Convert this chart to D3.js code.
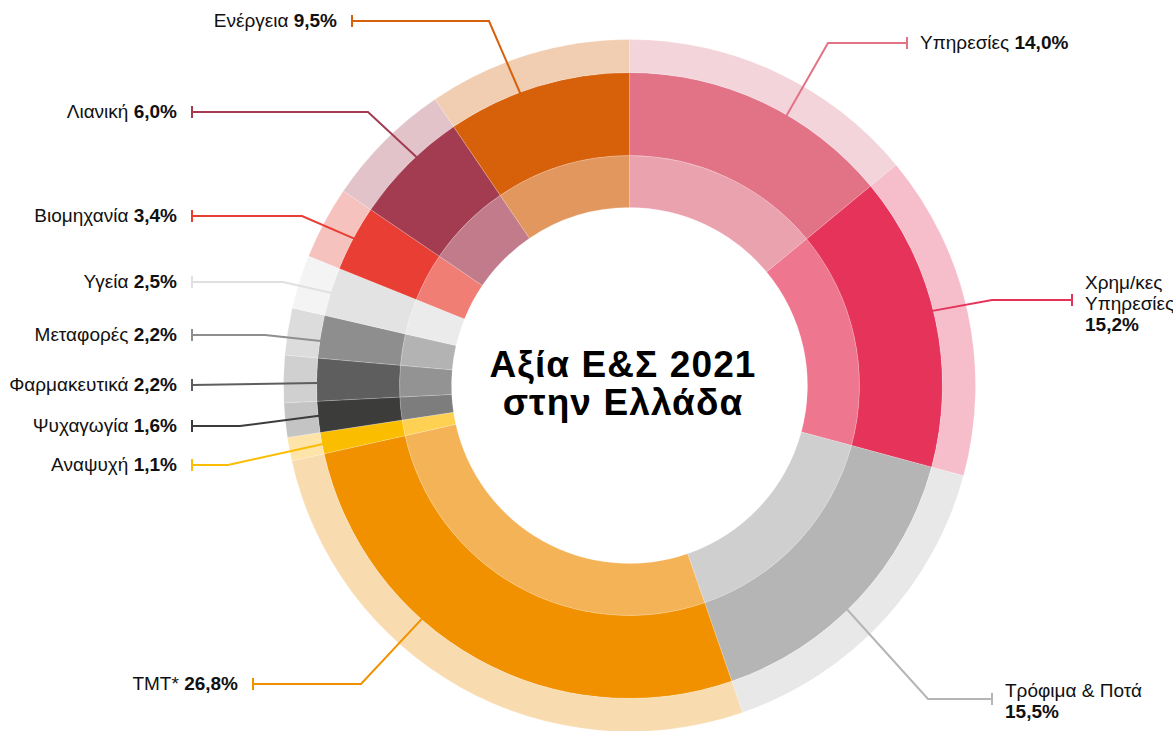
<!DOCTYPE html>
<html>
<head>
<meta charset="utf-8">
<script src="https://cdn.jsdelivr.net/npm/d3@7/dist/d3.min.js"></script>
<style>
  body { margin: 0; background: #fff; }
  svg { display: block; font-family: "Helvetica Neue", Helvetica, "Liberation Sans", Arial, sans-serif; }
</style>
</head>
<body>
<div id="chart"></div>
<script>
// Sectors, clockwise from 12 o'clock
var sectors = ["Υπηρεσίες", "Χρημ/κες Υπηρεσίες", "Τρόφιμα & Ποτά", "ΤΜΤ*", "Αναψυχή", "Ψυχαγωγία",
               "Φαρμακευτικά", "Μεταφορές", "Υγεία", "Βιομηχανία", "Λιανική", "Ενέργεια"];
var shares = [14.0, 15.2, 15.5, 26.8, 1.1, 1.6, 2.2, 2.2, 2.5, 3.4, 6.0, 9.5];
var shareLabels = ["14,0%", "15,2%", "15,5%", "26,8%", "1,1%", "1,6%", "2,2%", "2,2%", "2,5%", "3,4%", "6,0%", "9,5%"];

// three tones per sector: main ring, inner ring, outer ring
var mainColors  = ["#e27386", "#e6335a", "#b5b5b5", "#f19100", "#fbbd00", "#3c3c3a",
                   "#5e5e5e", "#8e8e8e", "#e3e3e3", "#e83e33", "#a33c51", "#d7610a"];
var innerColors = ["#eba2af", "#ef768f", "#cfcfcf", "#f5b358", "#ffd152", "#7d7d7d",
                   "#939393", "#b3b3b3", "#ebebeb", "#f07e75", "#c17b8a", "#e2975f"];
var outerColors = ["#f4d4db", "#f6bdcb", "#e8e8e8", "#f9dbb0", "#fee4a8", "#c4c4c4",
                   "#d0d0d0", "#dcdcdc", "#f4f4f4", "#f6c2be", "#e1c3c9", "#f1cdb1"];
var lineColors  = ["#e27386", "#e6335a", "#b5b5b5", "#f19100", "#fbbd00", "#3c3c3a",
                   "#5e5e5e", "#8e8e8e", "#e0e0e0", "#e83e33", "#a33c51", "#d7610a"];

// label placement: tick position, elbow x, shift of anchor angle (deg), text lines
var labelLayout = [
  {side: "right", tx: 907,  ty: 43,  ex: 828, shift: 5,    dy: 6,   lines: ["Υπηρεσίες"], inline: true},
  {side: "right", tx: 1072, ty: 300, ex: 992, shift: -1.6, dy: -11, lines: ["Χρημ/κες", "Υπηρεσίες"], inline: false},
  {side: "right", tx: 992,  ty: 699, ex: 928, shift: 2.8,  dy: -2,  lines: ["Τρόφιμα & Ποτά"], inline: false},
  {side: "left",  tx: 253,  ty: 684, ex: 361, shift: 12.5, dy: 6,   lines: ["ΤΜΤ*"], inline: true},
  {side: "left",  tx: 192,  ty: 465, ex: 228, shift: -0.2, dy: 6,   lines: ["Αναψυχή"], inline: true},
  {side: "left",  tx: 192,  ty: 426, ex: 240, shift: 0.2,  dy: 6,   lines: ["Ψυχαγωγία"], inline: true},
  {side: "left",  tx: 192,  ty: 385, ex: null, shift: -0.6, dy: 6,  lines: ["Φαρμακευτικά"], inline: true},
  {side: "left",  tx: 192,  ty: 335, ex: 265, shift: -0.8, dy: 6,   lines: ["Μεταφορές"], inline: true},
  {side: "left",  tx: 192,  ty: 282, ex: 283, shift: -0.2, dy: 6,   lines: ["Υγεία"], inline: true},
  {side: "left",  tx: 192,  ty: 216, ex: 302, shift: 0,    dy: 6,   lines: ["Βιομηχανία"], inline: true},
  {side: "left",  tx: 192,  ty: 112, ex: 368, shift: 2,    dy: 6,   lines: ["Λιανική"], inline: true},
  {side: "left",  tx: 352,  ty: 21,  ex: 489, shift: -3.4, dy: 6,   lines: ["Ενέργεια"], inline: true}
];

var titleLines = ["Αξία Ε&Σ 2021", "στην Ελλάδα"];

var width = 1173, height = 731;
var cx = 629.5, cy = 385.5;
var rHole = 178, rMid = 230, rMain = 313, rOuter = 346;

var data = sectors.map(function(s, i) {
  return {name: s, value: shares[i], label: shareLabels[i], i: i};
});

var svg = d3.select("#chart").append("svg")
  .attr("width", width)
  .attr("height", height);

var g = svg.append("g").attr("transform", "translate(" + cx + "," + cy + ")");

var pie = d3.pie().sort(null).value(function(d) { return d.value; });
var arcs = pie(data);

var rings = [
  {inner: rHole, outer: rMid, colors: innerColors},
  {inner: rMid, outer: rMain, colors: mainColors},
  {inner: rMain, outer: rOuter, colors: outerColors}
];

rings.forEach(function(ring) {
  var arc = d3.arc().innerRadius(ring.inner).outerRadius(ring.outer);
  g.append("g").selectAll("path")
    .data(arcs)
    .enter().append("path")
    .attr("d", arc)
    .attr("fill", function(d) { return ring.colors[d.data.i]; })
    .attr("stroke", "#fff")
    .attr("stroke-opacity", 0.3)
    .attr("stroke-width", 0.6);
});

// leader lines
function polar(angle, r) {
  return [cx + r * Math.sin(angle), cy - r * Math.cos(angle)];
}

var labels = svg.append("g");
arcs.forEach(function(a) {
  var i = a.data.i;
  var lay = labelLayout[i];
  var ang = (a.startAngle + a.endAngle) / 2 + lay.shift * Math.PI / 180;
  var end = polar(ang, rMain - 1);
  var pts = [[lay.tx, lay.ty]];
  if (lay.ex !== null) pts.push([lay.ex, lay.ty]);
  pts.push(end);

  labels.append("path")
    .attr("d", d3.line()(pts))
    .attr("fill", "none")
    .attr("stroke", lineColors[i])
    .attr("stroke-width", 2);

  labels.append("line")
    .attr("x1", lay.tx).attr("x2", lay.tx)
    .attr("y1", lay.ty - 6).attr("y2", lay.ty + 6)
    .attr("stroke", lineColors[i])
    .attr("stroke-width", 2);

  var left = lay.side === "left";
  var text = labels.append("text")
    .attr("x", left ? lay.tx - 15 : lay.tx + 13)
    .attr("y", lay.ty + lay.dy)
    .attr("text-anchor", left ? "end" : "start")
    .attr("font-size", "19px")
    .attr("fill", "#111");

  lay.lines.forEach(function(line, k) {
    var t = text.append("tspan")
      .attr("x", left ? lay.tx - 15 : lay.tx + 13)
      .attr("dy", k === 0 ? 0 : 21)
      .text(line);
    if (lay.inline && k === lay.lines.length - 1) {
      t.text(line + " ");
    }
  });
  if (lay.inline) {
    text.append("tspan").attr("font-weight", "bold").text(a.data.label);
  } else {
    text.append("tspan")
      .attr("x", left ? lay.tx - 15 : lay.tx + 13)
      .attr("dy", 21)
      .attr("font-weight", "bold")
      .text(a.data.label);
  }
});

// centre title
svg.append("text")
  .attr("x", 623)
  .attr("y", 377)
  .attr("text-anchor", "middle")
  .attr("font-size", "37px")
  .attr("font-weight", "bold")
  .attr("letter-spacing", "1.1px")
  .attr("fill", "#000")
  .selectAll("tspan")
  .data(titleLines)
  .enter().append("tspan")
  .attr("x", 623)
  .attr("dy", function(d, k) { return k === 0 ? 0 : 38; })
  .text(function(d) { return d; });
</script>
</body>
</html>
